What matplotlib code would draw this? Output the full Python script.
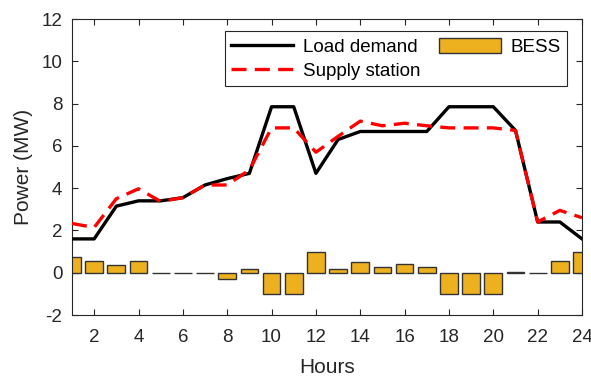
import numpy as np
import matplotlib
matplotlib.use("Agg")
import matplotlib.pyplot as plt

hours = list(range(1, 25))
load = [1.6, 1.6, 3.15, 3.4, 3.4, 3.55, 4.15, 4.45, 4.7, 7.85, 7.85, 4.7,
        6.3, 6.68, 6.68, 6.68, 6.68, 7.85, 7.85, 7.85, 6.73, 2.4, 2.4, 1.6]
supply = [2.33, 2.14, 3.5, 3.97, 3.37, 3.55, 4.15, 4.15, 4.86, 6.85, 6.85, 5.7,
          6.45, 7.17, 6.95, 7.07, 6.95, 6.85, 6.85, 6.85, 6.73, 2.4, 2.95, 2.6]
bess = [0.73, 0.54, 0.35, 0.57, 0.0, 0.0, 0.0, -0.3, 0.16, -1.0, -1.0, 0.98,
        0.16, 0.52, 0.27, 0.4, 0.26, -1.0, -1.0, -1.0, 0.02, 0.0, 0.55, 1.0]
xticks = list(range(2, 25, 2))
yticks = list(range(-2, 13, 2))

plt.rcParams['font.family'] = ['Liberation Sans', 'DejaVu Sans']
plt.rcParams['axes.unicode_minus'] = False
dark = '#262626'

fig = plt.figure(figsize=(5.91, 3.8), dpi=100)
ax = fig.add_axes([0.1218, 0.171, 0.863, 0.779])

b = ax.bar(hours, bess, width=0.8, color='#EDB120', edgecolor='#333333',
           linewidth=1.0, label='BESS', zorder=2)
l1, = ax.plot(hours, load, color='black', lw=2.4, label='Load demand', zorder=3)
l2, = ax.plot(hours, supply, color='red', lw=2.4, ls=(0, (4.5, 2.5)), label='Supply station', zorder=4)

ax.set_xlim(1, 24)
ax.set_ylim(-2, 12)
ax.set_xticks(xticks)
ax.set_yticks(yticks)
ax.tick_params(direction='in', top=True, right=True, length=4, width=0.8,
               labelsize=13.5, colors=dark)
ax.tick_params(axis='x', pad=10)
ax.tick_params(axis='y', pad=7)
for s in ax.spines.values():
    s.set_color(dark)
    s.set_linewidth(0.8)
ax.set_xlabel('Hours', fontsize=15, color=dark, labelpad=9)
ax.set_ylabel('Power (MW)', fontsize=15, color=dark, labelpad=6)

leg = ax.legend([l1, l2, b], ['Load demand', 'Supply station', 'BESS'], ncol=2,
                loc='upper right', bbox_to_anchor=(0.9706, 0.959), borderaxespad=0,
                fontsize=13.5, fancybox=False, edgecolor=dark, framealpha=1,
                handlelength=3.3, handleheight=0.9, borderpad=0.35, labelspacing=0.3,
                columnspacing=1.0, handletextpad=0.5)
leg.get_frame().set_linewidth(0.8)

fig.savefig('out.png', dpi=100)
